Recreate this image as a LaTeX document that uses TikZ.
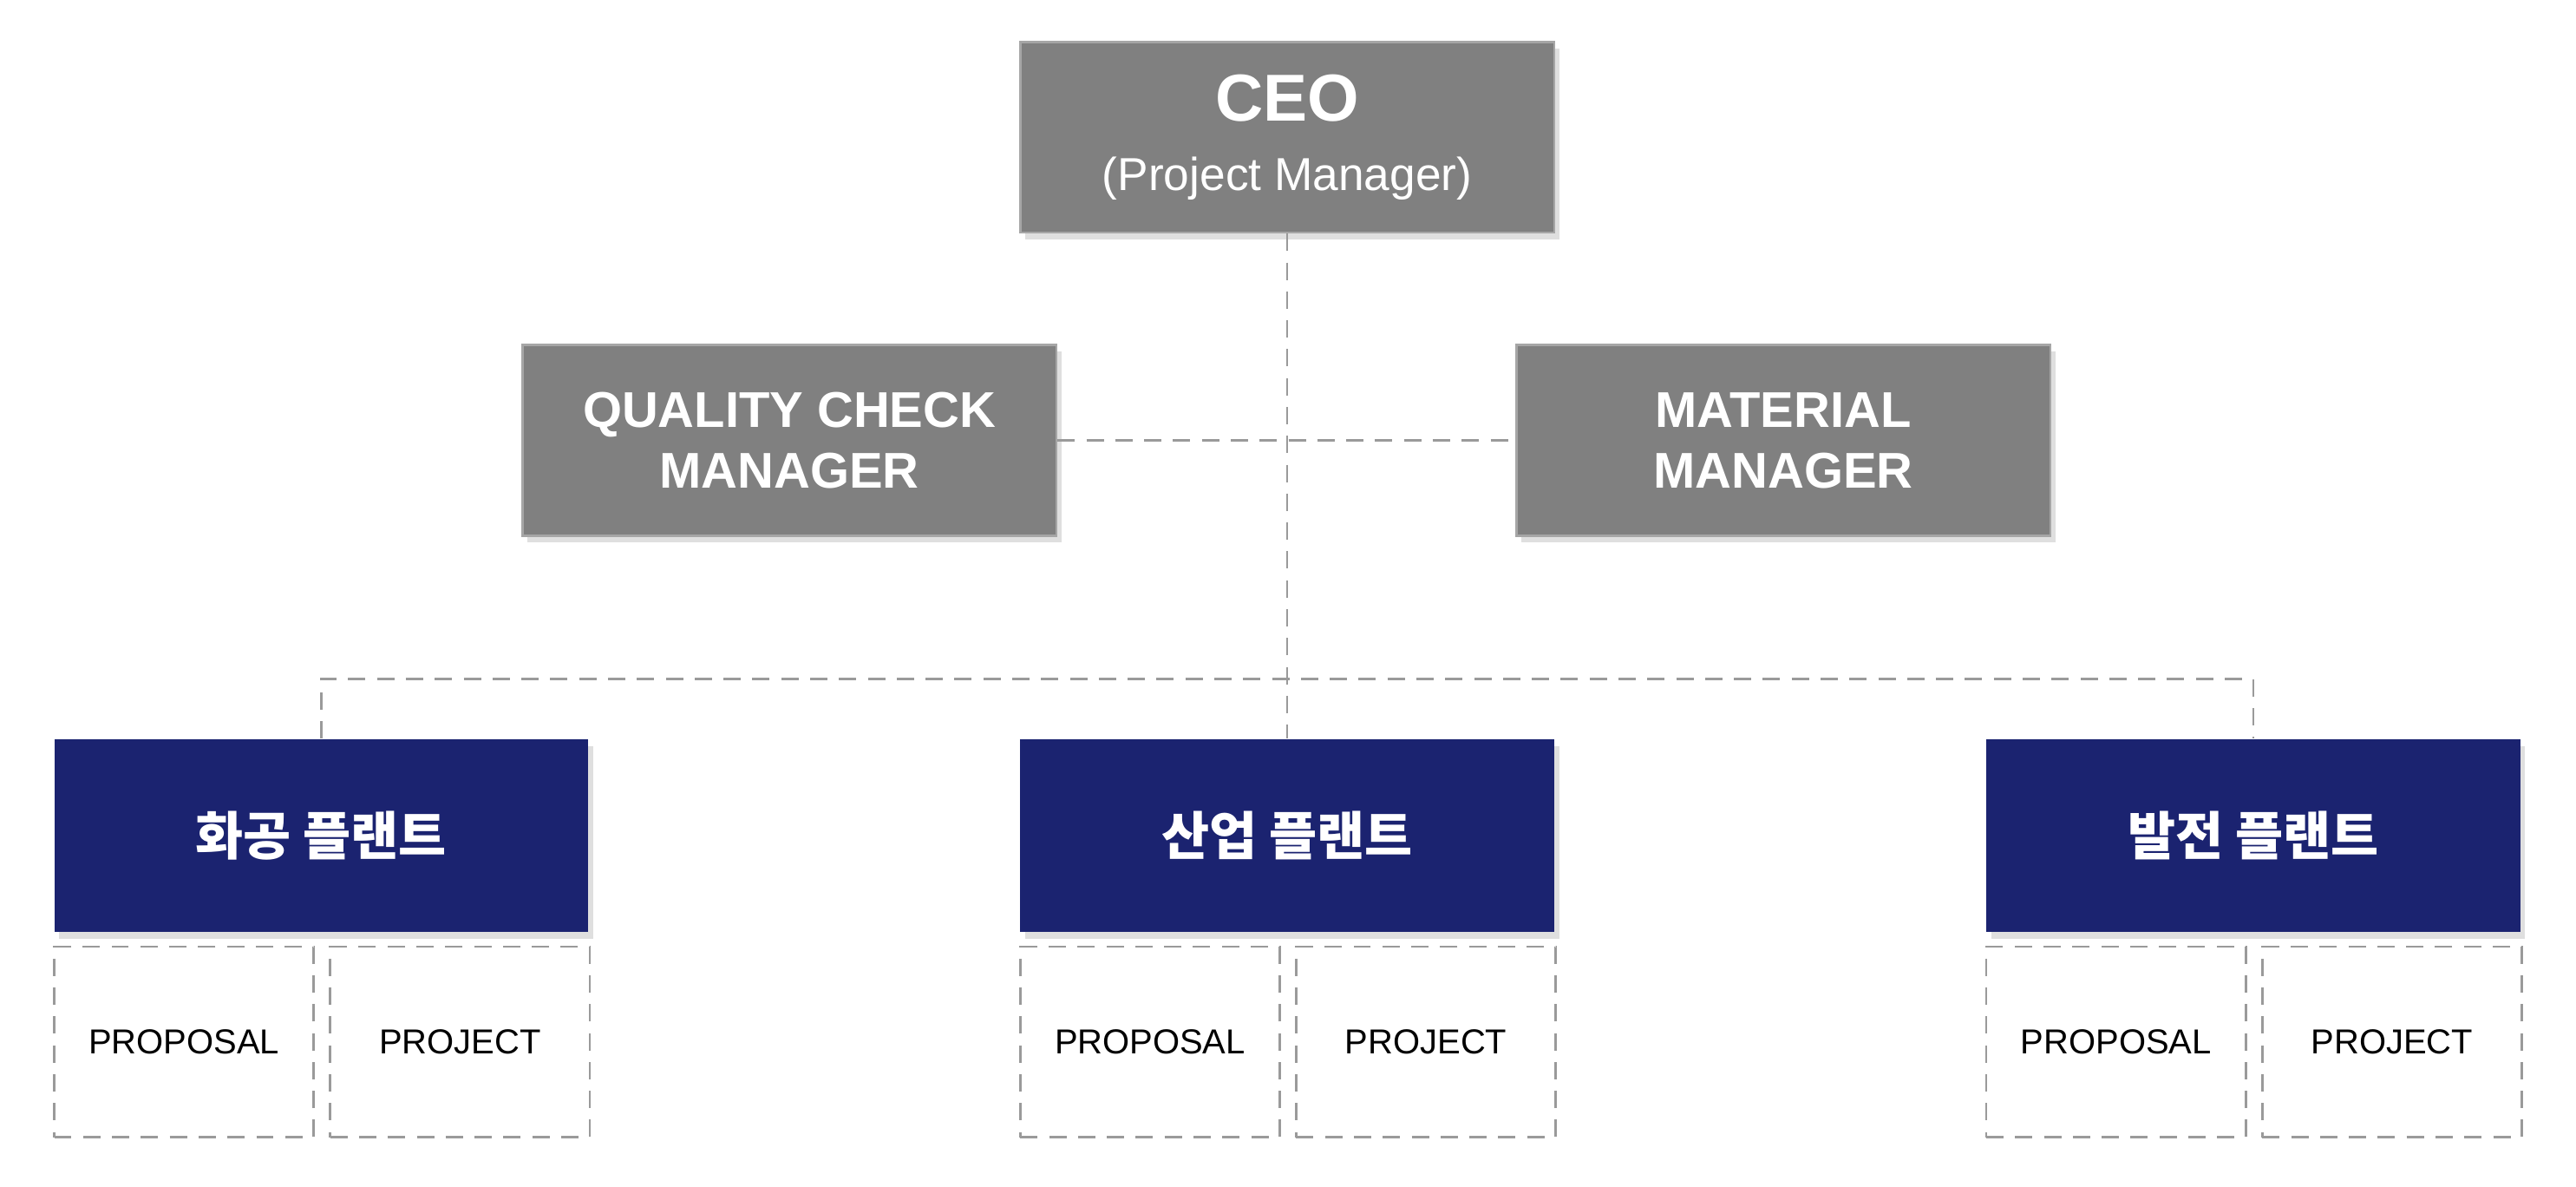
\documentclass[tikz,border=0pt]{standalone}
\usepackage{fontspec}
\setmainfont{Liberation Sans}
\newfontfamily\kor{Noto Sans CJK KR}
\usetikzlibrary{shadows}
\definecolor{boxgray}{HTML}{808080}
\definecolor{plantblue}{HTML}{1B2370}
\definecolor{linegray}{HTML}{9A9A9A}
\tikzset{
  mgr/.style={draw=boxgray!70, fill=boxgray, text=white, font=\bfseries\fontsize{8.7}{10.5}\selectfont,
    minimum width=3.25cm, minimum height=1.16cm, align=center, inner sep=0pt,
    drop shadow={shadow xshift=0.03cm, shadow yshift=-0.04cm, opacity=0.25}},
  plant/.style={fill=plantblue, text=white, font=\kor\bfseries\fontsize{9}{11}\selectfont,
    minimum width=3.25cm, minimum height=1.17cm, inner sep=0pt,
    drop shadow={shadow xshift=0.03cm, shadow yshift=-0.04cm, opacity=0.25}},
  task/.style={draw=linegray, densely dashed, fill=white, font=\fontsize{6}{7}\selectfont,
    minimum width=1.58cm, minimum height=1.16cm, inner sep=0pt},
  link/.style={draw=linegray, densely dashed, thin}
}
\begin{document}
\begin{tikzpicture}
        \useasboundingbox (0,0) rectangle (15.68,-7.22);

        % Direccion
        \node[mgr, font=\fontsize{8}{12}\selectfont] (ceo) at (7.835,-0.835)
          {{\bfseries\fontsize{11.5}{13}\selectfont CEO}\\(Project Manager)};
        \node[mgr] (qcm) at (4.805,-2.68) {QUALITY CHECK\\MANAGER};
        \node[mgr] (mtm) at (10.855,-2.68) {MATERIAL\\MANAGER};

        % Plantas
        \node[plant] (chem) at (1.955,-5.085) {화공 플랜트};
        \node[plant] (indu) at (7.835,-5.085) {산업 플랜트};
        \node[plant] (powr) at (13.715,-5.085) {발전 플랜트};

        % Tareas
        \foreach \p/\x in {chem/1.12, indu/7.0, powr/12.88} {
          \node[task] (\p-prop) at (\x,-6.34) {PROPOSAL};
          \node[task] (\p-proj) at (\x+1.68,-6.34) {PROJECT};
        }

        % Conexiones
        \coordinate (split) at (7.84,-4.13);
        \coordinate (mid) at (7.84,-2.68);
        \draw[link] (ceo.south) -- (indu.north);
        \draw[link] (qcm.east) -- (mtm.west);
        \draw[link] (chem.north) |- (split) -| (powr.north);
\end{tikzpicture}
\end{document}
